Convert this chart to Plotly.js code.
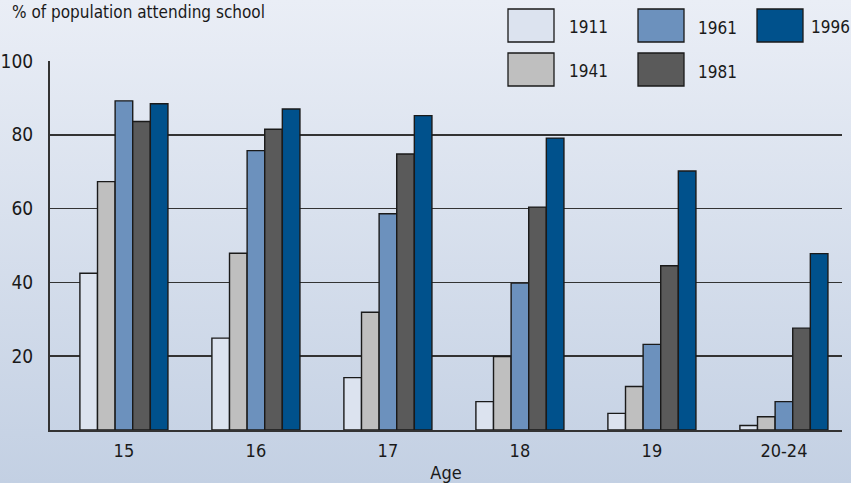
<!DOCTYPE html>
<html>
<head>
<meta charset="utf-8">
<script src="https://cdn.plot.ly/plotly-3.0.1.min.js"></script>
<style>
  html, body { margin: 0; padding: 0; }
  #chart { width: 851px; height: 483px; background: linear-gradient(to bottom, #eaeef6 0%, #c3d0e3 100%); }
</style>
</head>
<body>
<div id="chart"></div>
<script>
// ---- data ----
const ages = ["15", "16", "17", "18", "19", "20-24"];
const years = ["1911", "1941", "1961", "1981", "1996"];
const v1911 = [42.5, 24.9, 14.2, 7.7, 4.5, 1.2];
const v1941 = [67.3, 47.9, 31.9, 19.9, 11.8, 3.6];
const v1961 = [89.2, 75.7, 58.6, 39.8, 23.2, 7.7];
const v1981 = [83.6, 81.5, 74.8, 60.4, 44.5, 27.6];
const v1996 = [88.4, 87.0, 85.2, 79.1, 70.2, 47.8];
const yTicks = [20, 40, 60, 80, 100];
const yTitle = "% of population attending school";
const xTitle = "Age";

// ---- style ----
const colors = ["#dce3ef", "#bfbfbf", "#6c91bd", "#5a5a5a", "#00518c"];
const series = [v1911, v1941, v1961, v1981, v1996];
const FONT = "DejaVu Sans Condensed, DejaVu Sans, sans-serif";

const W = 851, H = 483;
const M = {l: 50, r: 9, t: 61, b: 53};
const pw = W - M.l - M.r, ph = H - M.t - M.b;
const px = x => (x - M.l) / pw;
const py = y => (H - M.b - y) / ph;

const traces = years.map((yr, i) => ({
  type: "bar",
  name: yr,
  x: ages,
  y: series[i],
  marker: {color: colors[i], line: {color: "#1a1a1a", width: 1.4}},
  showlegend: false,
  hoverinfo: "x+y+name"
}));

// legend grid (column-major: 1911/1941, 1961/1981, 1996)
const legPos = [
  {bx: 508, by: 9, tx: 567, ty: 27},
  {bx: 508, by: 53, tx: 567, ty: 71},
  {bx: 638, by: 9, tx: 696, ty: 28},
  {bx: 638, by: 53, tx: 696, ty: 72},
  {bx: 757, by: 9, tx: 809, ty: 27}
];
const shapes = [];
const annotations = [];
years.forEach((yr, i) => {
  const p = legPos[i];
  shapes.push({
    type: "rect", xref: "paper", yref: "paper",
    x0: px(p.bx), x1: px(p.bx + 46), y0: py(p.by + 33), y1: py(p.by),
    fillcolor: colors[i], line: {color: "#1a1a1a", width: 1.3}
  });
  annotations.push({
    xref: "paper", yref: "paper", x: px(p.tx), y: py(p.ty),
    xanchor: "left", yanchor: "middle", text: yr, showarrow: false,
    font: {family: FONT, size: 17, color: "#1a1a1a"}
  });
});
annotations.push({
  xref: "paper", yref: "paper", x: px(10), y: py(0),
  xanchor: "left", yanchor: "top", text: yTitle, showarrow: false,
  font: {family: FONT, size: 17, color: "#1a1a1a"}
});

const layout = {
  width: W, height: H,
  margin: M,
  paper_bgcolor: "rgba(0,0,0,0)",
  plot_bgcolor: "rgba(0,0,0,0)",
  barmode: "group",
  bargap: 0.333,
  bargroupgap: 0,
  font: {family: FONT, size: 18, color: "#1a1a1a"},
  showlegend: false,
  xaxis: {
    type: "category",
    range: [-0.56, 5.44],
    showline: true, linecolor: "#333333", linewidth: 2,
    ticks: "", showgrid: false, zeroline: false,
    tickfont: {family: FONT, size: 18, color: "#1a1a1a"},
    ticklabelstandoff: 3,
    title: {text: xTitle, font: {family: FONT, size: 18, color: "#1a1a1a"}, standoff: 7}
  },
  yaxis: {
    range: [0, 100],
    tickvals: yTicks,
    ticktext: yTicks.map(String),
    showline: true, linecolor: "#333333", linewidth: 2,
    ticks: "", zeroline: false,
    showgrid: true, gridcolor: "#333333", gridwidth: 1.6,
    tickfont: {family: FONT, size: 19, color: "#1a1a1a"},
    ticklabelstandoff: 11
  },
  shapes: shapes,
  annotations: annotations
};

Plotly.newPlot("chart", traces, layout, {displayModeBar: false, staticPlot: true});
</script>
</body>
</html>
